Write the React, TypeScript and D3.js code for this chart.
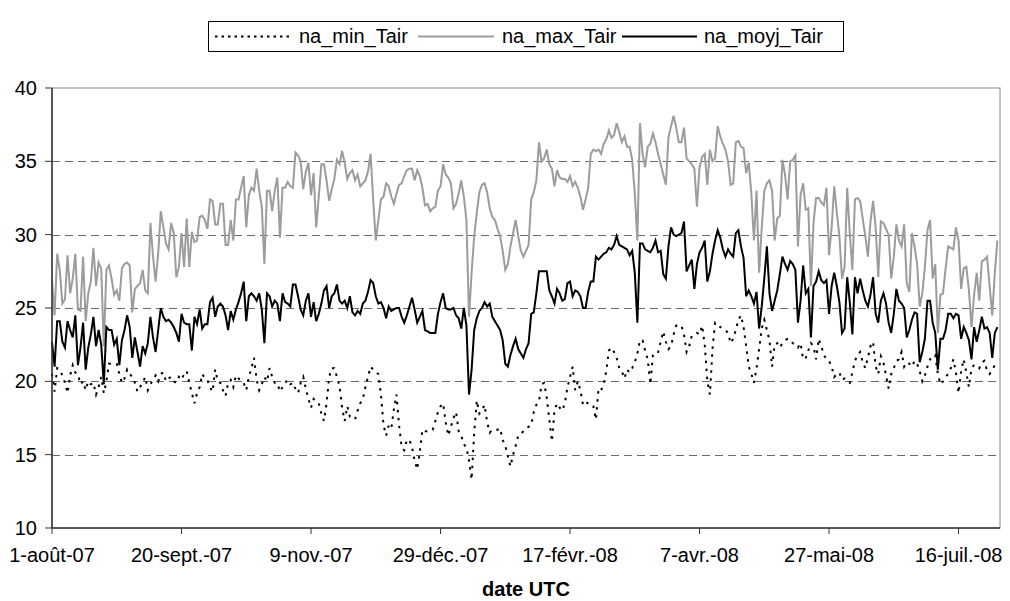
import React from "react";
import * as d3 from "d3";

const DAY = 86400000;
const startDate = Date.UTC(2007, 7, 1);
const endDate = Date.UTC(2008, 7, 1);

const yTicks = [10, 15, 20, 25, 30, 35, 40];
const xTickDays = [0, 50, 100, 150, 200, 250, 300, 350];
const xTickLabels = ["1-août-07", "20-sept.-07", "9-nov.-07", "29-déc.-07", "17-févr.-08", "7-avr.-08", "27-mai-08", "16-juil.-08"];
const seriesNames = ["na_min_Tair", "na_max_Tair", "na_moyj_Tair"];
const xTitle = "date UTC";

// daily maximum (grey)
const maxTair = [
  26.9, 24.5, 28.7, 27.6, 25.3, 25.6, 28.6, 26.0, 27.0, 28.7,
  24.9, 24.8, 28.5, 24.1, 26.0, 26.8, 29.1, 26.5, 28.1, 27.7,
  22.4, 27.6, 27.9, 27.0, 25.9, 26.2, 25.5, 27.7, 28.0, 28.1,
  27.9, 24.7, 26.3, 26.5, 26.7, 27.6, 26.2, 26.0, 30.8, 28.5,
  26.8, 28.7, 31.6, 30.5, 29.4, 29.0, 30.8, 30.1, 27.1, 27.8,
  30.1, 27.8, 31.1, 27.8, 30.2, 29.5, 29.6, 31.2, 31.3, 31.0,
  30.4, 32.4, 32.3, 30.7, 30.7, 32.1, 32.1, 29.3, 29.3, 31.0,
  29.6, 32.4, 32.4, 33.2, 34.0, 30.5, 32.7, 33.2, 33.0, 34.5,
  33.0, 31.9, 28.0, 33.0, 33.0, 31.6, 33.0, 33.9, 29.8, 33.2,
  33.2, 33.6, 33.3, 33.2, 35.6, 35.4, 35.0, 33.1, 34.3, 34.9,
  32.7, 34.2, 30.5, 32.6, 34.8, 34.8, 33.7, 32.3, 33.1, 33.8,
  35.1, 34.8, 35.7, 34.9, 33.8, 34.2, 34.4, 33.7, 34.1, 33.3,
  33.5, 33.7, 34.3, 35.5, 32.4, 29.6, 31.0, 32.4, 32.6, 33.5,
  33.3, 32.6, 32.1, 32.8, 33.4, 33.5, 34.0, 34.4, 34.5, 34.5,
  33.7, 34.4, 34.0, 33.2, 32.0, 32.1, 31.6, 31.8, 31.9, 33.0,
  33.3, 34.8, 34.1, 33.9, 33.5, 31.8, 32.1, 32.8, 33.7, 32.6,
  31.0, 24.4, 27.4, 29.9, 31.5, 32.9, 33.4, 33.5, 32.9, 31.8,
  31.2, 31.0, 30.4, 29.9, 28.9, 27.6, 28.0, 29.2, 30.1, 31.0,
  29.9, 28.9, 28.5, 28.9, 29.3, 32.4, 32.9, 33.7, 36.3, 35.0,
  35.2, 35.8, 34.8, 34.5, 33.3, 34.4, 33.9, 33.8, 33.8, 33.6,
  34.0, 33.3, 33.6, 33.2, 32.6, 31.7, 32.4, 33.2, 35.5, 35.8,
  35.7, 35.8, 35.5, 36.2, 36.5, 37.1, 36.6, 36.8, 37.6, 37.0,
  36.3, 36.7, 36.0, 36.0, 35.1, 32.8, 29.6, 37.6, 35.5, 34.6,
  36.0, 36.2, 36.9, 36.3, 35.5, 34.8, 34.1, 33.4, 36.6, 37.4,
  38.1, 37.3, 36.3, 36.3, 37.3, 35.2, 35.0, 34.8, 34.5, 31.9,
  34.6, 35.3, 35.5, 33.4, 35.8, 35.0, 35.2, 37.4, 36.7, 36.2,
  35.8, 35.0, 33.4, 33.5, 36.3, 36.4, 36.0, 35.9, 34.2, 34.9,
  32.8, 29.6, 33.0, 27.4, 30.4, 33.0, 33.5, 33.7, 33.0, 29.6,
  31.1, 31.3, 35.1, 34.1, 32.4, 35.0, 35.1, 35.4, 29.2, 32.7,
  33.5, 31.7, 31.8, 26.5, 30.8, 32.5, 32.5, 32.2, 32.0, 33.2,
  28.6, 30.5, 33.3, 31.5, 29.9, 27.0, 27.8, 33.2, 30.1, 27.6,
  32.4, 32.5, 32.3, 31.1, 29.9, 28.5, 30.9, 32.3, 30.5, 27.1,
  30.9, 30.8, 30.4, 30.0, 27.0, 28.5, 30.7, 29.6, 29.2, 30.7,
  26.7, 26.1, 30.1, 29.2, 28.0, 25.1, 26.0, 27.8, 30.3, 31.0,
  27.0, 28.0, 23.3, 25.9, 26.0, 27.7, 29.2, 29.1, 29.0, 30.5,
  29.6, 26.3, 27.7, 27.8, 26.2, 23.7, 25.9, 27.4, 25.5, 28.2,
  28.3, 28.5, 26.5, 24.5, 27.4, 29.6,
];

// daily mean (black)
const moyjTair = [
  22.7, 21.0, 24.1, 24.1, 22.7, 22.3, 24.1, 23.5, 23.0, 24.5,
  21.1, 22.3, 24.0, 20.8, 22.3, 23.2, 24.4, 22.4, 23.5, 22.5,
  19.8, 23.7, 23.5, 23.5, 22.5, 22.9, 21.1, 22.8, 23.5, 24.5,
  23.7, 21.6, 23.0, 22.0, 21.0, 22.4, 21.9, 22.6, 24.4, 23.0,
  22.0, 23.5, 25.0, 24.4, 24.1,
  24.2, 24.0, 23.7, 23.3, 22.7, 24.6, 24.0, 23.9, 23.9, 22.1,
  24.4, 23.9, 24.9, 23.6, 23.9, 23.9, 25.4, 25.7, 24.4, 25.1,
  25.3, 25.1, 24.5, 23.5, 24.8, 24.2, 24.9, 25.4, 26.0, 26.8,
  24.1, 25.8, 26.0, 25.8, 25.5, 26.0, 24.9, 22.6, 26.0, 25.8,
  25.1, 25.5, 25.3, 24.1, 26.0, 25.4, 25.3,
  25.1, 26.6, 26.6, 25.8, 24.9, 24.5, 25.5, 26.0, 24.4, 25.4,
  24.1, 24.6, 25.3, 26.2, 26.5, 25.0, 25.8, 26.0, 26.6, 25.5,
  25.3, 25.5, 25.0, 25.8, 24.7, 24.5, 24.8, 24.6, 25.3, 25.5,
  26.1, 26.9, 26.7, 25.8, 25.3, 25.4, 25.0, 24.3, 25.1, 24.8,
  24.9, 25.0, 25.0, 24.4, 24.0, 24.5,
  25.1, 25.7, 24.9, 24.0, 24.4, 24.8, 23.5, 23.4, 23.3, 23.3,
  23.3, 24.6, 25.4, 26.0, 25.0, 24.9, 24.9, 25.0, 24.5, 24.3,
  23.6, 25.0, 23.8, 19.1,
  20.8, 23.5, 24.3, 24.8, 25.0, 25.4, 25.1, 25.3, 24.4, 24.1,
  23.8, 23.5, 22.8, 21.2, 21.0, 21.8, 22.4, 22.9, 22.2, 21.9,
  21.6, 22.2, 22.6, 24.6,
  24.7, 26.0, 27.5, 27.5, 27.5, 27.5, 26.2, 25.8, 25.3, 26.3,
  26.0, 25.5, 25.6, 26.7, 26.8, 25.8, 26.2, 26.1, 25.8, 25.0,
  25.0, 26.1, 26.8, 26.8, 28.5, 28.3, 28.5, 28.7, 28.8, 29.1,
  29.0, 29.3, 29.9, 29.3, 29.2, 29.1, 29.0, 28.6, 28.9, 27.4,
  24.0, 29.4, 29.4, 29.0, 28.9,
  28.8, 29.1, 29.6, 28.8, 28.9, 27.3, 27.0, 29.2, 30.5, 30.0,
  29.9, 30.0, 30.1, 30.9, 27.5, 27.9, 28.3, 26.3, 28.0, 28.8,
  29.1, 29.6, 26.8, 27.5, 28.7, 29.6, 30.3, 29.8, 29.0, 28.5,
  29.0, 28.7, 28.5, 30.1, 30.3, 29.2, 28.4, 25.8, 26.2, 25.8,
  25.3, 26.1, 23.6, 25.1, 27.0, 29.2,
  26.0, 24.8, 25.5, 26.2, 27.3, 28.5, 28.0, 27.6, 28.2, 28.0,
  27.6, 24.0, 25.5, 27.9, 26.0, 26.3, 23.0, 26.5, 26.8, 27.5,
  26.9, 26.7, 26.9, 24.6, 26.5, 27.4, 26.5, 25.4, 23.3, 23.6,
  27.1, 25.4, 23.2, 27.1, 26.0, 27.0, 26.2, 25.5, 25.1, 25.9,
  27.1, 24.6, 24.0, 25.5, 26.0, 25.3, 24.0,
  23.3, 24.6, 26.3, 25.5, 25.3, 25.0, 23.0, 23.5, 24.2, 24.7,
  24.6, 21.3, 22.0, 22.9, 25.5, 25.5, 24.0, 23.3, 20.8, 22.9,
  22.9, 23.5, 24.6, 24.6, 24.3, 24.6, 24.5, 22.9, 23.7, 23.3,
  22.8, 21.5, 23.7, 22.7, 23.5, 24.4, 23.6, 23.7, 23.3, 21.6,
  23.3, 23.7,
];

// daily minimum (dotted)
const minTair = [
  20.5, 19.3, 20.9, 20.8, 20.4, 19.9, 19.2, 20.4, 21.1, 20.6,
  20.5, 19.8, 20.0, 19.4, 20.0, 19.8, 19.9, 19.1, 19.6, 20.3,
  19.2, 20.0, 21.2, 21.2, 21.2, 21.2, 20.5, 19.9, 20.2, 20.8,
  20.5, 20.3, 19.9, 19.3, 19.6, 19.9, 20.3, 19.4, 19.8, 20.1,
  20.4, 20.0, 20.5, 20.6, 20.0, 20.2,
  20.3, 20.0, 19.9, 20.3, 20.1, 20.5, 20.7, 19.9, 19.2, 18.5,
  19.2, 19.6, 20.5, 20.2, 20.1, 19.6, 19.3, 20.8, 20.0, 19.9,
  19.4, 19.0, 19.9, 20.1, 19.6, 20.4, 20.2, 20.0, 19.9, 19.4,
  20.3, 20.9, 21.6, 20.1, 19.4, 19.8, 20.3, 20.0, 20.9, 20.3,
  19.9, 19.9, 19.3, 19.6, 19.9, 20.1,
  19.8, 19.9, 19.5, 19.2, 19.9, 20.3, 19.5, 18.8, 18.2, 18.8,
  18.6, 18.5, 17.8, 17.3, 18.5, 20.3, 20.9, 20.9, 20.3, 19.7,
  18.2, 17.3, 18.3, 17.6, 17.5, 17.4, 18.0, 18.5, 18.8, 19.6,
  20.3, 21.0, 20.8, 20.6, 20.5, 19.1, 17.0, 16.3, 17.0, 16.8,
  18.1, 19.1, 17.0, 15.5, 15.3, 16.0,
  16.0, 15.5, 14.6, 14.0, 15.2, 16.7, 16.6, 16.6, 16.6, 16.7,
  17.3, 17.9, 18.3, 18.5, 17.2, 16.3, 16.9, 17.5, 17.9, 16.6,
  16.3, 15.7, 15.5, 14.6, 13.3, 16.5, 18.7, 17.8, 18.0, 18.4,
  17.2, 16.5, 16.7, 16.7, 16.7, 16.8, 16.0, 15.6, 14.9, 14.2,
  15.0, 15.6, 16.3, 16.4, 16.6, 16.8, 16.9, 17.0,
  17.9, 18.4, 18.6, 19.8, 19.9, 18.9, 17.4, 15.9, 18.0, 18.5,
  18.2, 18.0, 18.5, 19.6, 20.3, 21.0, 19.4, 20.0, 19.4, 18.4,
  18.6, 18.5, 18.5, 18.3, 17.4, 19.5, 19.4, 19.8, 20.7, 22.1,
  22.3, 22.0, 21.6, 20.9, 20.7, 20.2, 20.8, 20.6, 20.9, 21.3,
  21.9, 22.8, 22.8, 22.1, 21.5,
  19.8, 21.8, 22.0, 22.0, 22.7, 23.4, 22.7, 22.2, 22.4, 23.2,
  23.8, 23.8, 23.8, 23.2, 22.0, 22.4, 23.1, 23.2, 23.3, 23.2,
  23.8, 22.5, 20.0, 19.1, 22.2, 24.0, 23.9, 23.7, 23.6, 23.5,
  23.3, 22.6, 22.9, 23.5, 24.2, 24.5, 23.7, 22.4, 21.0, 20.5,
  19.9, 20.9, 22.2, 23.6, 24.2, 23.5, 22.8,
  21.0, 22.5, 22.6, 22.3, 22.6, 22.8, 22.9, 22.8, 22.6, 22.5,
  22.3, 22.6, 21.5, 21.6, 22.1, 22.6, 22.4, 21.5, 22.9, 22.4,
  21.8, 21.5, 21.4, 21.0, 20.3, 20.5, 20.6, 20.1, 20.2, 20.0,
  19.9, 20.6, 21.4, 21.8, 22.0, 21.3, 20.9, 21.6, 22.4, 22.7,
  21.0, 20.5, 21.7, 21.3, 20.4, 19.5,
  20.5, 20.9, 21.4, 21.5, 22.0, 21.0, 21.3, 21.2, 21.0, 21.4,
  21.2, 20.7, 20.0, 20.4, 21.0, 21.5, 21.7, 21.8, 20.5, 19.8,
  20.0, 20.3, 20.5, 20.9, 21.5, 20.6, 19.2, 20.7, 21.5, 20.6,
  19.6, 20.9, 21.1, 21.1, 20.9, 21.3, 21.4, 20.7, 20.5, 20.8,
  21.1, 21.1,
];

const FONT = "'Liberation Sans', Arial, Helvetica, sans-serif";

export default function App() {
  const W = 1010;
  const H = 601;
  const left = 52, right = 1000, top = 88, bottom = 528;

  const x = d3.scaleUtc().domain([new Date(startDate), new Date(endDate)]).range([left, right]);
  const y = d3.scaleLinear().domain([10, 40]).range([bottom, top]);
  const dateOf = (i: number) => new Date(startDate + i * DAY);
  const line = d3
    .line<number>()
    .x((_, i) => x(dateOf(i)))
    .y((d) => y(d));

  const series = [
    { name: seriesNames[0], data: minTair, color: "#000", width: 2, dash: "2.5,5.5" },
    { name: seriesNames[1], data: maxTair, color: "#9c9c9c", width: 2, dash: undefined },
    { name: seriesNames[2], data: moyjTair, color: "#000", width: 2, dash: undefined },
  ];

  const legendItems = [
    { sx: 215, ex: 290, tx: 299 },
    { sx: 418, ex: 494, tx: 502 },
    { sx: 622, ex: 697, tx: 704 },
  ];

  return (
    <svg
      width={W}
      height={H}
      style={{ position: "absolute", left: 0, top: 0, background: "#fff" }}
      fontFamily={FONT}
    >
      <rect x={0} y={0} width={W} height={H} fill="#fff" />
      {/* legend */}
      <rect x={208.5} y={21.5} width={635} height={30} fill="#fff" stroke="#000" strokeWidth={1} />
      {series.map((s, k) => (
        <g key={s.name}>
          <line
            x1={legendItems[k].sx}
            x2={legendItems[k].ex}
            y1={36.5}
            y2={36.5}
            stroke={s.color}
            strokeWidth={s.width}
            strokeDasharray={s.dash ? "2.5,4" : undefined}
          />
          <text x={legendItems[k].tx} y={43} fontSize={20} fill="#000">
            {s.name}
          </text>
        </g>
      ))}

      {/* plot border */}
      <rect x={left} y={top} width={right - left} height={bottom - top} fill="none" stroke="#8a8a8a" strokeWidth={1} />

      {/* grid lines */}
      {yTicks
        .filter((t) => t !== 10 && t !== 40)
        .map((t) => (
          <line
            key={"g" + t}
            x1={left}
            x2={right}
            y1={Math.round(y(t)) + 0.5}
            y2={Math.round(y(t)) + 0.5}
            stroke="#6a6a6a"
            strokeWidth={1}
            strokeDasharray="8,5"
          />
        ))}

      {/* series */}
      {series.map((s) => (
        <path
          key={"p" + s.name}
          d={line(s.data) || ""}
          fill="none"
          stroke={s.color}
          strokeWidth={s.width}
          strokeDasharray={s.dash}
          strokeLinejoin="miter"
        />
      ))}

      {/* axes */}
      <line x1={left} x2={left} y1={top} y2={bottom} stroke="#333" strokeWidth={1.5} />
      <line x1={left} x2={right} y1={bottom} y2={bottom} stroke="#333" strokeWidth={1.5} />
      {yTicks.map((t) => (
        <g key={"yt" + t}>
          <line x1={left - 7} x2={left} y1={y(t)} y2={y(t)} stroke="#333" strokeWidth={1} />
          <text x={37} y={y(t)} dy="0.35em" textAnchor="end" fontSize={20} fill="#000">
            {t}
          </text>
        </g>
      ))}
      {xTickDays.map((d, k) => {
        const xx = x(dateOf(d));
        return (
          <g key={"xt" + d}>
            <line x1={xx} x2={xx} y1={bottom} y2={bottom + 6} stroke="#333" strokeWidth={1} />
            <text x={xx} y={562} textAnchor="middle" fontSize={20} fill="#000">
              {xTickLabels[k]}
            </text>
          </g>
        );
      })}
      <text x={526} y={596} textAnchor="middle" fontSize={20} fontWeight="bold" fill="#000">
        {xTitle}
      </text>
    </svg>
  );
}
